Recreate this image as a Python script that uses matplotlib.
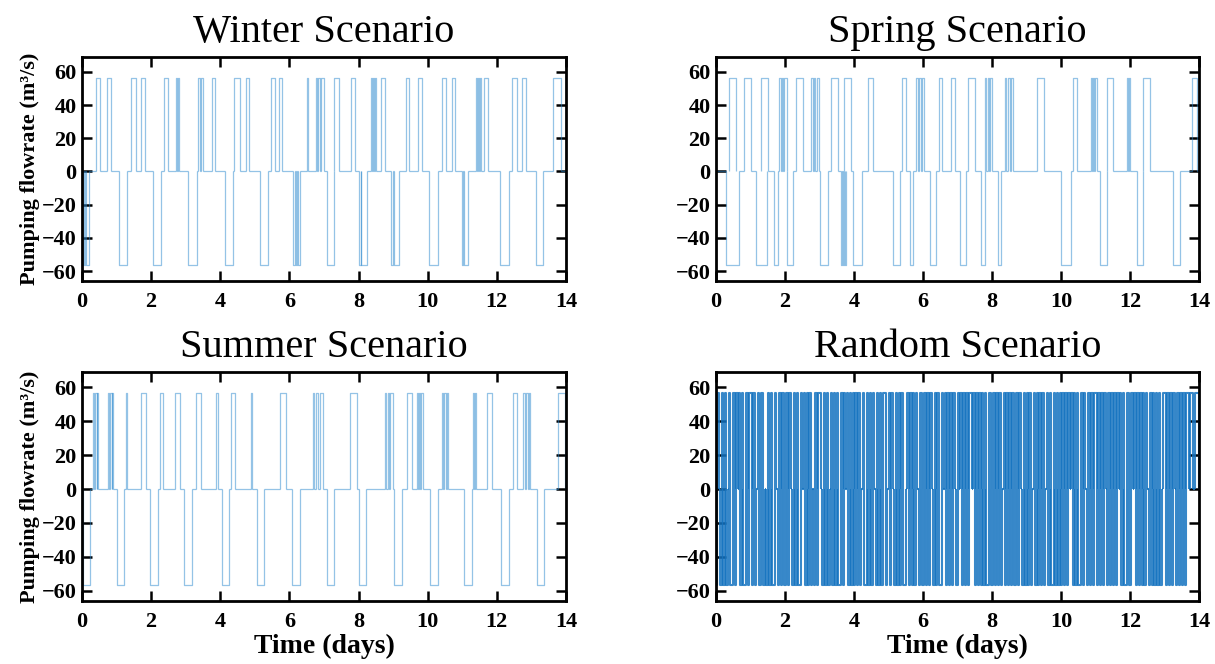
import matplotlib
matplotlib.use("Agg")
import matplotlib.pyplot as plt
from matplotlib.collections import LineCollection

# pumping (+) and generating (-) periods, in days
winter_pump = [(0.40, 0.53), (0.71, 0.84), (1.43, 1.55), (1.71, 1.81), (2.38, 2.48), (2.72, 2.75),
               (2.77, 2.81), (3.36, 3.40), (3.43, 3.49), (3.75, 3.85), (4.40, 4.56), (4.73, 4.82),
               (5.46, 5.58), (5.70, 5.79), (6.50, 6.55), (6.76, 6.80), (6.84, 6.88), (6.92, 7.00),
               (7.30, 7.42), (7.78, 7.90), (8.35, 8.39), (8.42, 8.45), (8.47, 8.50), (8.65, 8.75),
               (9.36, 9.47), (9.73, 9.83), (10.40, 10.54), (10.70, 10.80), (11.39, 11.42),
               (11.45, 11.48), (11.51, 11.55), (11.62, 11.75), (12.43, 12.57), (12.72, 12.85),
               (13.62, 13.86)]
winter_turbine = [(0.00, 0.04), (0.06, 0.10), (0.12, 0.21), (1.07, 1.31), (2.05, 2.29), (3.08, 3.32),
                  (4.13, 4.37), (5.15, 5.39), (6.11, 6.16), (6.18, 6.22), (6.24, 6.32), (7.08, 7.28),
                  (8.02, 8.06), (8.08, 8.24), (8.95, 9.00), (9.02, 9.17), (10.05, 10.30),
                  (10.98, 11.02), (11.04, 11.16), (12.09, 12.35), (13.12, 13.34)]

spring_pump = [(0.37, 0.58), (0.82, 1.02), (1.29, 1.50), (1.84, 1.88), (1.91, 1.95), (1.98, 2.05),
               (2.32, 2.51), (2.76, 2.80), (2.84, 2.88), (2.92, 2.98), (3.34, 3.53), (3.72, 3.92),
               (4.42, 4.55), (5.39, 5.52), (5.81, 5.86), (5.89, 5.93), (5.96, 6.02), (6.46, 6.56),
               (6.82, 6.92), (7.31, 7.50), (7.79, 7.84), (7.87, 7.92), (7.95, 8.01), (8.37, 8.42),
               (8.46, 8.52), (8.55, 8.61), (9.29, 9.50), (10.35, 10.45), (10.86, 10.90),
               (10.93, 10.97), (10.99, 11.03), (11.32, 11.50), (11.92, 11.95), (11.97, 12.00),
               (12.39, 12.58), (13.79, 13.93)]
spring_turbine = [(0.29, 0.66), (1.16, 1.47), (1.67, 1.80), (2.05, 2.22), (3.00, 3.24), (3.63, 3.66),
                  (3.68, 3.71), (3.73, 3.76), (3.97, 4.24), (5.13, 5.32), (5.61, 5.71), (6.20, 6.38),
                  (7.06, 7.26), (7.69, 7.79), (8.18, 8.27), (10.01, 10.30), (11.12, 11.32),
                  (12.19, 12.38), (13.25, 13.45)]

summer_pump = [(0.33, 0.36), (0.39, 0.42), (0.44, 0.47), (0.75, 0.79), (0.82, 0.86), (0.88, 0.91),
               (1.28, 1.31), (1.72, 1.86), (2.25, 2.34), (2.68, 2.83), (3.31, 3.45), (3.89, 3.92),
               (4.30, 4.42), (4.88, 4.91), (5.72, 5.91), (6.68, 6.72), (6.77, 6.82), (6.88, 6.97),
               (7.75, 7.95), (8.77, 8.80), (8.84, 8.88), (8.92, 8.99), (9.41, 9.54), (9.68, 9.71),
               (9.74, 9.78), (9.82, 9.87), (10.40, 10.44), (10.48, 10.52), (10.56, 10.60),
               (11.32, 11.35), (11.38, 11.41), (11.71, 11.85), (12.48, 12.57), (12.77, 12.81),
               (12.85, 12.89), (12.92, 12.96), (13.78, 13.97)]
summer_turbine = [(0.02, 0.24), (1.00, 1.22), (1.98, 2.20), (2.96, 3.18), (4.04, 4.26), (5.05, 5.27),
                  (6.08, 6.30), (7.08, 7.30), (8.00, 8.22), (9.03, 9.25), (10.08, 10.30),
                  (11.06, 11.28), (12.12, 12.34), (13.15, 13.37)]

# random scenario: one character per hour, one string per day (+ pump, - generate, 0 idle)
random_hours = [
    "-+0-+-+-0+--+-+0+-+--+-+",
    "+-+-0+-++-0-+-+--+0-+-+-",
    "-+-+0-+-+--+0+-+-+-0-+-+",
    "+0-+-+-0+-+-+--+-+0+-+-+",
    "-+-+-0+--+-+-+0-+-+-++-0",
    "+-+0-+-+-+--0+-+-+-+0-+-",
    "-+-+-+0-+-+--+0+-+-+-+0-",
    "+0+-+-+-++0+-+-+-+-+--+-",
    "-+-+-+-0+-+-+-+--+-+0-+-",
    "+-+-0+-+-+-+-0+-+--+-+-+",
    "-+-+-+0+-+-+--+-+0-+-+-+",
    "+-+-+-+0-+-+-+-+0+-+--+-",
    "-+0+-+-+-+-+0-+-+-+-+-0+",
    "+-+-+-+0-+-+-+-++0++0+++",
]

flow = 56.5
days = 14
titles = ["Winter Scenario", "Spring Scenario", "Summer Scenario", "Random Scenario"]


def hours_to_periods(day_strings, sym):
    seq = "".join(day_strings)
    periods = []
    start = None
    for i, c in enumerate(seq + " "):
        if c == sym and start is None:
            start = i
        elif c != sym and start is not None:
            periods.append((start / 24, i / 24))
            start = None
    return periods


def build_segments(pump, turbine):
    pulses = sorted([(s, e, flow) for s, e in pump] + [(s, e, -flow) for s, e in turbine])
    segs = []
    t = 0.0
    for s, e, lev in pulses:
        if s > t:
            segs.append([(t, 0), (s, 0)])
        segs.append([(s, 0), (s, lev), (e, lev), (e, 0)])
        t = max(t, e)
    if t < days:
        segs.append([(t, 0), (days, 0)])
    return segs


plt.rcParams['font.family'] = ['Liberation Serif', 'DejaVu Serif']
plt.rcParams['font.weight'] = 'bold'
plt.rcParams['axes.labelweight'] = 'bold'

fig = plt.figure(figsize=(12.15, 6.64), dpi=100)
W, H = 1215, 664
boxes = [(82, 57, 566, 281), (716, 57, 1199, 281), (82, 372, 566, 601), (716, 372, 1199, 601)]

scenarios = [
    (winter_pump, winter_turbine),
    (spring_pump, spring_turbine),
    (summer_pump, summer_turbine),
    (hours_to_periods(random_hours, "+"), hours_to_periods(random_hours, "-")),
]
# line look per panel: colour, width, alpha (random one is packed much tighter)
styles = [('#2a88cf', 0.9, 0.5)] * 3 + [('#1573c0', 1.5, 0.85)]

for i, ((pump, turbine), title, (x0, y0, x1, y1), (col, lw, al)) in enumerate(
        zip(scenarios, titles, boxes, styles)):
    ax = fig.add_axes([x0 / W, 1 - y1 / H, (x1 - x0) / W, (y1 - y0) / H])
    lc = LineCollection(build_segments(pump, turbine), colors=col, linewidths=lw, alpha=al)
    ax.add_collection(lc)
    ax.set_xlim(0, days)
    ax.set_ylim(-66, 69)
    ax.set_xticks(range(0, 15, 2))
    ax.set_yticks(range(-60, 61, 20))
    ax.tick_params(direction='in', top=True, right=True, length=7, width=1.8,
                   labelsize=16)
    ax.tick_params(axis='x', pad=8)
    ax.tick_params(axis='y', pad=4)
    for sp in ax.spines.values():
        sp.set_linewidth(2.0)
    ax.set_title(title, fontsize=29, fontweight='normal', pad=11)
    if i % 2 == 0:
        ax.set_ylabel("Pumping flowrate (m³/s)", fontsize=16, labelpad=1)
    if i >= 2:
        ax.set_xlabel("Time (days)", fontsize=20, labelpad=1)

fig.savefig("out.png", dpi=100)
